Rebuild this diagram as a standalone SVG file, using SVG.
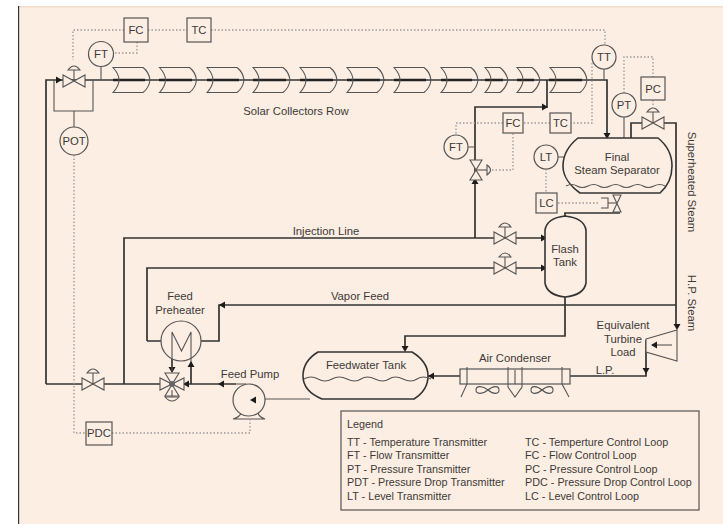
<svg xmlns="http://www.w3.org/2000/svg" width="723" height="524" viewBox="0 0 723 524">
<style>
text{font-family:"Liberation Sans",Arial,sans-serif;font-size:11.3px;fill:#3c3a38;text-anchor:middle}
.l{text-anchor:start;font-size:10.8px}
.p{fill:none;stroke:#333;stroke-width:1.7}
.t{fill:none;stroke:#555;stroke-width:1.1}
.h{fill:none;stroke:#222;stroke-width:2.6}
.d{fill:none;stroke:#999;stroke-width:1.3;stroke-dasharray:1.5 2}
.b{fill:#fdeee3;stroke:#555;stroke-width:1.2}
.s{fill:#fdeee3;stroke:#333;stroke-width:1.6}
.v{fill:#fdeee3;stroke:#555;stroke-width:1.1}
.a{fill:#1c1c1c}
</style>
<defs>
<path id="c" d="M0 -12.500H30Q36 -8 37 0Q36 8 30 12.500H0Q6 6 6 0Q6 -6 0 -12.500Z" class="t"/>
<path id="cs" d="M0 -12.500H15Q21 -8 23 0Q21 8 15 12.500H0Q6 6 6 0Q6 -6 0 -12.500Z" class="t"/>
<g id="valve"><path d="M-11 -6V6L11 -6V6Z" class="v"/><path d="M0 0V-11" class="t"/><path d="M-6 -11Q0 -19 6 -11Z" class="v"/></g>
<path id="al" d="M0 0L6 -3.500V3.500Z" class="a"/>
<path id="ar" d="M0 0L-6 -3.500V3.500Z" class="a"/>
<path id="ad" d="M0 0L-3.500 -6H3.500Z" class="a"/>
<path id="au" d="M0 0L-3.500 6H3.500Z" class="a"/>
</defs>
<rect x="0" y="0" width="723" height="524" fill="#fff"/>
<rect x="19" y="6" width="704" height="518" fill="#fdeee3"/>
<rect x="19" y="6" width="704" height="1.500" fill="#f1dccb"/>
<rect x="18" y="6" width="1.200" height="518" fill="#3a3432"/>

<g id="connectors">
<path class="p" d="M46 384V80H93M93 80H113M113 80H607V137"/>
<path class="t" d="M101 67V80M604 69V80M74 111V127M54 80V111H93V80"/>
<path class="p" d="M547 80V107H475V238M124 384V238H545"/>
<path class="p" d="M147 341V268H545M147 341H162M201 341H219V305H676M631 138V123H643M663 123H676V326"/>
<path class="p" d="M46 384H172M184 384H236M565 297V336H405V350M428 376H460M570 376H646V340"/>
<path class="p" d="M565 217V213H620"/>
<path class="t" d="M468 147H475M558 157H564M624 117V138"/>
<path class="t" d="M265 399H310M236 384H246"/>
<path class="p" d="M172 359V372M191 362V384"/>
<path class="d" d="M124 30H73V60M148 30H187M211 30H605V45M115 53H137V42"/>
<path class="d" d="M592 63V123H571M550 123H523M503 123H456V134M492 170H513V133M546 169V193M558 203H600M624 93V57H653V77M653 100V106"/>
<path class="d" d="M74 155V433H86M112 433H250V420"/>
<use href="#ad" x="607" y="139"/><use href="#ar" x="548" y="107"/><use href="#au" x="475" y="178"/>
<use href="#ar" x="547" y="238"/><use href="#ar" x="547" y="268"/><use href="#al" x="219" y="305"/>
<use href="#ad" x="405" y="352"/><use href="#al" x="428" y="376"/><use href="#ad" x="646" y="374"/><use href="#ad" x="677" y="330"/>
<use href="#ad" x="172" y="373"/><use href="#au" x="191" y="361"/><use href="#al" x="183" y="384"/><use href="#al" x="218" y="384"/>
<use href="#ar" x="62" y="80"/>
</g>

<g id="collectors">
<path class="h" d="M113 80H145M159 80H192M207 80H239M253 80H286M300 80H333M347 80H380M394 80H426M441 80H472M485 80H503M517 80H534M549 80H582"/>
<use href="#c" x="113" y="80"/><use href="#c" x="159.500" y="80"/><use href="#c" x="207" y="80"/><use href="#c" x="253" y="80"/><use href="#c" x="300" y="80"/><use href="#c" x="347" y="80"/><use href="#c" x="394" y="80"/><use href="#c" x="441" y="80"/>
<use href="#cs" x="485" y="80"/><use href="#cs" x="517" y="80"/><use href="#c" x="550" y="80"/>
<text x="296" y="115">Solar Collectors Row</text>
</g>

<g id="valve-main"><use href="#valve" x="74" y="81"/></g>
<g id="fc1"><rect class="b" x="124" y="18" width="24" height="24"/><text x="136" y="34">FC</text></g>
<g id="tc1"><rect class="b" x="187" y="18" width="24" height="24"/><text x="199" y="34">TC</text></g>
<g id="ft1"><circle class="b" cx="101" cy="54" r="12.500"/><text x="101" y="58">FT</text></g>
<g id="pot"><circle class="b" cx="74" cy="141" r="14"/><text x="74" y="145">POT</text></g>
<g id="tt"><circle class="b" cx="604" cy="57" r="12"/><text x="604" y="61">TT</text></g>
<g id="pt"><circle class="b" cx="624" cy="105" r="12"/><text x="624" y="109">PT</text></g>
<g id="pc"><rect class="b" x="641" y="77" width="24" height="23"/><text x="653" y="93">PC</text></g>
<g id="valve-pc"><use href="#valve" x="653" y="123"/></g>
<g id="fc2"><rect class="b" x="503" y="113" width="20" height="20"/><text x="513" y="127">FC</text></g>
<g id="tc2"><rect class="b" x="550" y="113" width="21" height="20"/><text x="560.500" y="127">TC</text></g>
<g id="ft2"><circle class="b" cx="456" cy="147" r="12"/><text x="456" y="151">FT</text></g>
<g id="valve-ft"><path class="v" d="M470 160H482L470 180H482Z"/><path class="t" d="M476 170H487"/><path class="v" d="M487 165Q494 170 487 175Z"/></g>
<g id="lt"><circle class="b" cx="546" cy="157" r="12"/><text x="546" y="161">LT</text></g>
<g id="lc"><rect class="b" x="536" y="193" width="21" height="20"/><text x="546.500" y="207">LC</text></g>
<g id="valve-lc"><path class="v" d="M613 195H621L613 212H621Z"/><path class="t" d="M617 203H607"/><path class="v" d="M601 198H608V208H601"/></g>
<g id="separator">
<path class="s" d="M578 138H658C668 146 672 156 672 166C672 176 668 186 660 193H580C570 186 563 176 563 166C563 156 568 146 578 138Z"/>
<path class="t" d="M566 186q6 -3 11 0t11 0t11 0t11 0t11 0t11 0t11 0t11 0t11 0"/>
<text x="617" y="161">Final</text><text x="617" y="174">Steam Separator</text>
</g>
<g id="flash-tank">
<path class="s" d="M545 230Q547 218 565 216Q584 218 586 230V283Q584 295 565 297Q547 295 545 283Z"/>
<text x="565" y="253">Flash</text><text x="565" y="266">Tank</text>
</g>
<g id="valve-inj"><use href="#valve" x="505" y="238"/></g>
<g id="valve-feed"><use href="#valve" x="505" y="268"/></g>
<g id="preheater"><circle class="b" cx="181" cy="341" r="20"/><path class="t" d="M172 372V332L181.500 351L191 332V362"/></g>
<g id="valve-feedline"><use href="#valve" x="93" y="384"/></g>
<g id="valve-3way">
<path class="v" d="M160 378V390L184 378V390Z"/><path class="v" d="M165 373H179L165 396H179Z"/><circle cx="172" cy="384" r="3" fill="#666"/>
<path class="t" d="M172 390V397"/><path class="v" d="M165 397Q172 405 179 397Z"/>
</g>
<g id="feed-pump"><path class="v" d="M233 419Q240 417 241 413H258Q259 417 265 419Z"/><circle class="b" cx="249" cy="400" r="16"/><use href="#al" x="250" y="400"/></g>
<g id="feedwater-tank">
<path class="s" d="M318 352H412C422 358 428 366 428 376C428 386 422 394 414 399H322C310 394 303 386 303 376C303 366 308 358 318 352Z"/>
<path class="t" d="M304 379q7 -4 14 0t14 0t15 0t14 0t14 0t14 0t14 0t14 0t14 0"/>
<text x="366" y="369">Feedwater Tank</text>
</g>
<g id="air-condenser">
<rect class="b" x="460" y="369" width="110" height="15"/>
<path class="t" d="M467 367V384L461 397M562 367V384L569 397M508 367V387L515 397L522 387V367M515 370V384"/>
<path class="t" d="M488 390C482 385 476 386 476 390C476 394 482 395 488 390C494 385 499 386 499 390C499 394 494 395 488 390ZM542 390C536 385 531 386 531 390C531 394 536 395 542 390C548 385 553 386 553 390C553 394 548 395 542 390Z"/>
<text x="515" y="362">Air Condenser</text>
</g>
<g id="turbine">
<path class="v" d="M646 339L677 330V361L646 352Z"/>
<path class="t" d="M652 345H672"/><use href="#al" x="651" y="345"/>
<text x="623" y="329">Equivalent</text><text x="623" y="343">Turbine</text><text x="623" y="356">Load</text>
</g>
<text x="326" y="235">Injection Line</text>
<text x="360" y="300">Vapor Feed</text>
<text x="605" y="374">L.P.</text>
<text x="180" y="300">Feed</text><text x="180" y="314">Preheater</text>
<text x="250" y="378">Feed Pump</text>
<text x="0" y="0" transform="translate(688 182) rotate(90)">Superheated Steam</text>
<text x="0" y="0" transform="translate(688 303) rotate(90)">H.P. Steam</text>
<g id="pdc"><rect class="b" x="86" y="422" width="26" height="23"/><text x="99" y="437">PDC</text></g>
<g id="legend">
<rect x="341" y="411" width="358" height="99" fill="none" stroke="#555" stroke-width="1.2"/>
<text class="l" x="347" y="428">Legend</text>
<text class="l" x="347" y="446">TT - Temperature Transmitter</text>
<text class="l" x="347" y="459">FT - Flow Transmitter</text>
<text class="l" x="347" y="473">PT - Pressure Transmitter</text>
<text class="l" x="347" y="486">PDT - Pressure Drop Transmitter</text>
<text class="l" x="347" y="500">LT - Level Transmitter</text>
<text class="l" x="525" y="446">TC - Temperture Control Loop</text>
<text class="l" x="525" y="459">FC - Flow Control Loop</text>
<text class="l" x="525" y="473">PC - Pressure Control Loop</text>
<text class="l" x="525" y="486">PDC - Pressure Drop Control Loop</text>
<text class="l" x="525" y="500">LC - Level Control Loop</text>
</g>
</svg>
